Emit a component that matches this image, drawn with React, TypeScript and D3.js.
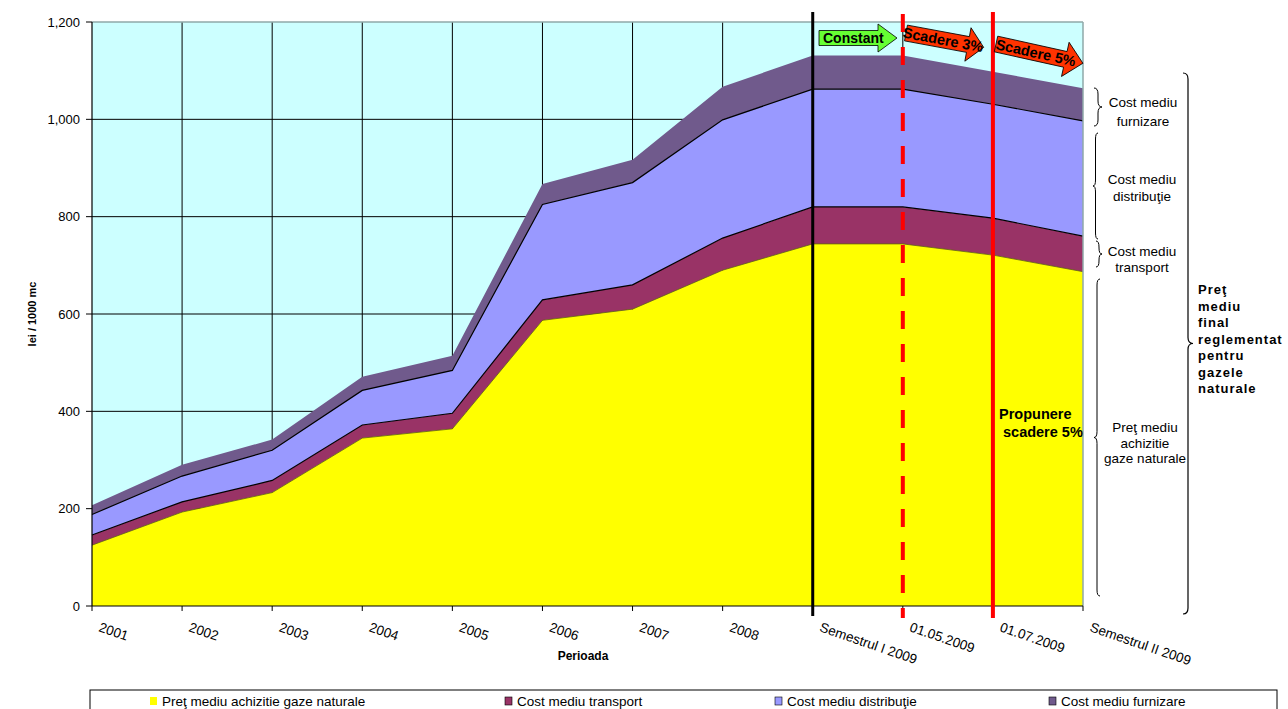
import React from "react";
import * as d3 from "d3";

const categories = ["2001", "2002", "2003", "2004", "2005", "2006", "2007", "2008", "Semestrul I 2009", "01.05.2009", "01.07.2009", "Semestrul II 2009"];
const pretAchizitie = [125, 193, 233, 345, 364, 587, 610, 690, 744, 744, 721, 687];
const costTransport = [21, 21, 25, 27, 32, 42, 50, 66, 76, 76, 76, 73];
const costDistributie = [42, 53, 62, 71, 88, 196, 210, 243, 242, 242, 234, 237];
const costFurnizare = [19, 23, 22, 28, 30, 42, 47, 68, 69, 69, 67, 67];
const yTicks = [0, 200, 400, 600, 800, 1000, 1200];
const seriesNames = ["Preţ mediu achizitie gaze naturale", "Cost mediu transport", "Cost mediu distribuţie", "Cost mediu furnizare"];
const seriesKeys = ["achizitie", "transport", "distributie", "furnizare"];
const seriesColors = ["#FFFF00", "#993366", "#9999FF", "#705A8C"];

const FONT = "Liberation Sans, Arial, sans-serif";

function bracePath(x: number, y1: number, y2: number, w: number) {
  const ym = (y1 + y2) / 2;
  const h = w / 2;
  const r = Math.min(6, (y2 - y1) / 4);
  return `M${x},${y1} Q${x + h},${y1} ${x + h},${y1 + r} L${x + h},${ym - r} Q${x + h},${ym} ${x + w},${ym} Q${x + h},${ym} ${x + h},${ym + r} L${x + h},${y2 - r} Q${x + h},${y2} ${x},${y2}`;
}

function arrowPath(L: number, h: number, H: number, hl: number) {
  return `M0,${-h} L${L - hl},${-h} L${L - hl},${-H} L${L},0 L${L - hl},${H} L${L - hl},${h} L0,${h} Z`;
}

export default function App() {
  const left = 92, right = 1083, top = 22, bottom = 606;
  const x = d3.scalePoint<string>().domain(categories).range([left, right]);
  const y = d3.scaleLinear().domain([0, 1200]).range([bottom, top]);

  const rows = categories.map((c, i) => ({
    cat: c,
    achizitie: pretAchizitie[i],
    transport: costTransport[i],
    distributie: costDistributie[i],
    furnizare: costFurnizare[i],
  }));
  const stacked = d3.stack<any>().keys(seriesKeys)(rows);
  const area = d3.area<any>()
    .x((d) => x(d.data.cat) as number)
    .y0((d) => y(d[0]))
    .y1((d) => y(d[1]));
  const line = d3.line<any>()
    .x((d) => x(d.data.cat) as number)
    .y((d) => y(d[1]));

  const xPos = (c: string) => x(c) as number;

  return (
    <svg width={1288} height={709} style={{ position: "absolute", left: 0, top: 0, background: "#fff" }} fontFamily={FONT}>
      <rect x={left} y={top} width={right - left} height={bottom - top} fill="#CCFFFF" />
      {yTicks.filter((t) => t > 0 && t < 1200).map((t) => (
        <line key={"gy" + t} x1={left} x2={right} y1={y(t)} y2={y(t)} stroke="#000" strokeWidth={1} />
      ))}
      {categories.slice(1, -1).map((c) => (
        <line key={"gx" + c} x1={xPos(c)} x2={xPos(c)} y1={top} y2={bottom} stroke="#000" strokeWidth={1} />
      ))}
      {stacked.map((s, i) => (
        <path key={"a" + i} d={area(s as any) as string} fill={seriesColors[i]} />
      ))}
      <path d={line(stacked[0] as any) as string} fill="none" stroke="#666600" strokeWidth={0.8} />
      <path d={line(stacked[1] as any) as string} fill="none" stroke="#000" strokeWidth={1.2} />
      <path d={line(stacked[2] as any) as string} fill="none" stroke="#000" strokeWidth={1.2} />
      <line x1={left} x2={right} y1={top} y2={top} stroke="#8FA8A8" strokeWidth={1.5} />
      <line x1={right} x2={right} y1={top} y2={bottom} stroke="#8FA8A8" strokeWidth={1.5} />
      <line x1={left} x2={left} y1={top} y2={bottom} stroke="#000" strokeWidth={1.2} />
      {yTicks.map((t) => (
        <g key={"yt" + t}>
          <line x1={left - 6} x2={left} y1={y(t)} y2={y(t)} stroke="#000" strokeWidth={1} />
          <text x={left - 12} y={y(t) + 4.5} textAnchor="end" fontSize={13} fill="#000">{d3.format(",")(t)}</text>
        </g>
      ))}
      <text transform={`translate(36,${(top + bottom) / 2}) rotate(-90)`} textAnchor="middle" fontSize={11} fontWeight="bold">lei / 1000 mc</text>
      <line x1={left} x2={right} y1={bottom} y2={bottom} stroke="#000" strokeWidth={1.2} />
      {categories.map((c) => (
        <g key={"xt" + c}>
          <line x1={xPos(c)} x2={xPos(c)} y1={bottom} y2={bottom + 5} stroke="#000" strokeWidth={1} />
          <text transform={`translate(${xPos(c) + 6},${bottom + 25}) rotate(19)`} fontSize={13.5} fill="#000">{c}</text>
        </g>
      ))}
      <text x={583} y={660} textAnchor="middle" fontSize={12} fontWeight="bold">Perioada</text>

      <line x1={xPos("Semestrul I 2009")} x2={xPos("Semestrul I 2009")} y1={12} y2={616} stroke="#000" strokeWidth={3} />
      <line x1={xPos("01.05.2009")} x2={xPos("01.05.2009")} y1={14} y2={618} stroke="#FF0000" strokeWidth={4} strokeDasharray="18,15" />
      <line x1={xPos("01.07.2009")} x2={xPos("01.07.2009")} y1={12} y2={618} stroke="#FF0000" strokeWidth={4} />

      <g transform="translate(819,38)">
        <path d={arrowPath(78, 7.5, 14, 19)} fill="#66FF33" stroke="#000" strokeWidth={0.8} />
        <text x={4} y={5} fontSize={14} fontWeight="bold">Constant</text>
      </g>
      <g transform="translate(906,33) rotate(10.5)">
        <path d={arrowPath(79, 8, 17, 16)} fill="#FF3300" stroke="#000" strokeWidth={0.8} />
        <text x={-3} y={5} fontSize={14.5} fontWeight="bold">Scadere 3%</text>
      </g>
      <g transform="translate(996,44) rotate(12.5)">
        <path d={arrowPath(89, 8, 17.5, 18)} fill="#FF3300" stroke="#000" strokeWidth={0.8} />
        <text x={0} y={5} fontSize={14.5} fontWeight="bold">Scadere 5%</text>
      </g>

      <text x={999} y={419} fontSize={14.5} fontWeight="bold">Propunere</text>
      <text x={1003} y={437} fontSize={14.5} fontWeight="bold">scadere 5%</text>

      <path d={bracePath(1094, 88, 126, 8)} fill="none" stroke="#000" strokeWidth={1} />
      <path d={bracePath(1098, 133, 239, -5)} fill="none" stroke="#000" strokeWidth={1} />
      <path d={bracePath(1096, 241, 267, 6)} fill="none" stroke="#000" strokeWidth={1} />
      <path d={bracePath(1100, 279, 596, -6)} fill="none" stroke="#000" strokeWidth={1} />
      <path d={bracePath(1183, 73, 614, 10)} fill="none" stroke="#000" strokeWidth={1.2} />

      <g fontSize={13.5} textAnchor="middle">
        <text x={1143} y={107}>Cost mediu</text>
        <text x={1143} y={126}>furnizare</text>
        <text x={1142} y={184}>Cost mediu</text>
        <text x={1142} y={201}>distribuţie</text>
        <text x={1142} y={256}>Cost mediu</text>
        <text x={1142} y={272}>transport</text>
        <text x={1145} y={432}>Preţ mediu</text>
        <text x={1145} y={448}>achizitie</text>
        <text x={1145} y={463}>gaze naturale</text>
      </g>
      <g fontSize={13} fontWeight="bold" letterSpacing={1}>
        {["Preţ", "mediu", "final", "reglementat", "pentru", "gazele", "naturale"].map((t, i) => (
          <text key={t} x={1198} y={294 + i * 16.5}>{t}</text>
        ))}
      </g>

      <rect x={90} y={690} width={1187} height={30} fill="#fff" stroke="#000" strokeWidth={1} />
      {seriesNames.map((n, i) => {
        const sx = [150, 505, 775, 1049][i];
        return (
          <g key={"lg" + i}>
            <rect x={sx} y={697} width={7} height={8} fill={seriesColors[i]} stroke={i === 0 ? "none" : "#000"} strokeWidth={0.6} />
            <text x={sx + 12} y={706} fontSize={13.5}>{n}</text>
          </g>
        );
      })}
    </svg>
  );
}
